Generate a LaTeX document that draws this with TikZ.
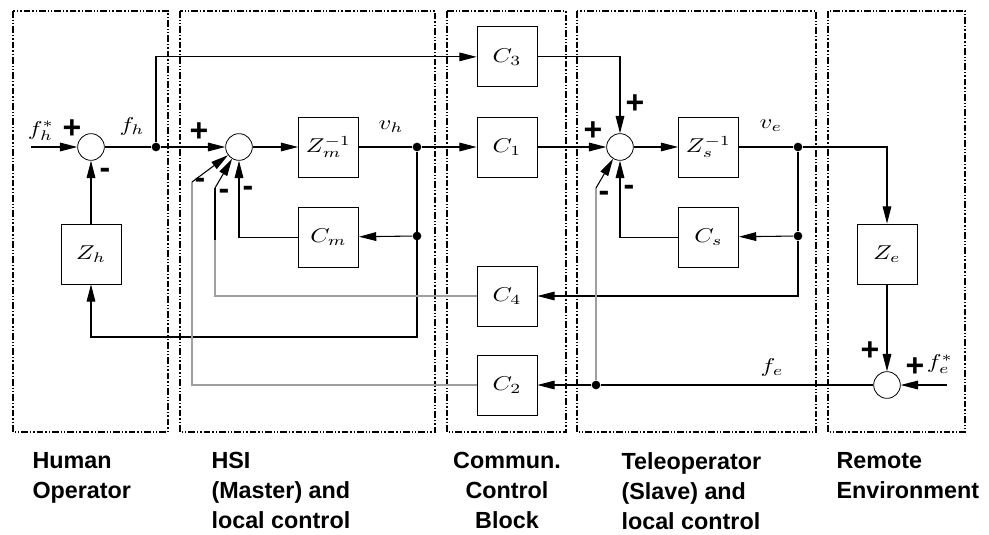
\documentclass[tikz,border=0pt]{standalone}
\usepackage{fontspec}
\setsansfont{Liberation Sans}
\usepackage{graphicx}
\usepackage{tikz}
\usetikzlibrary{positioning}
\usetikzlibrary{arrows.meta}
\newcommand{\lbl}[1]{\scalebox{1.85}[1.5]{$#1$}}

\begin{document}
\begin{tikzpicture}[
            x = 0.75pt, y = -0.75pt, % pixel grid, y downwards
            > = {Triangle[length=13pt, width=6.5pt]}, % arrow head style
            node distance = 22pt, % distance between stacked blocks
            line width = 0.8pt % line style
        ]

        \tikzstyle{block}=[draw, semithick, minimum width=45pt, minimum height=45pt, inner sep=0pt]
        \tikzstyle{sumnode}=[draw, semithick, circle, minimum size=20pt, inner sep=0pt]
        \tikzstyle{dot}=[circle, fill, minimum size=6.5pt, inner sep=0pt]
        \tikzstyle{sign}=[font=\sffamily\bfseries\fontsize{24}{24}\selectfont, inner sep=0pt]
        \tikzstyle{region}=[draw, line width=1.4pt, dash pattern=on 5pt off 1.5pt on 1pt off 1.5pt on 1pt off 1.5pt]
        \tikzstyle{fb}=[gray!75, line width=1pt]
        \tikzstyle{caption}=[anchor=north west, align=left, inner sep=0pt, font=\sffamily\bfseries\fontsize{17.5}{22.5}\selectfont]

        \useasboundingbox (0,0) rectangle (989,535);

	% subsystem frames
        \draw[region] (13,11) rectangle (168,432);
        \draw[region] (180,11) rectangle (435,432);
        \draw[region] (447,11) rectangle (566,432);
        \draw[region] (577,11) rectangle (816,432);
        \draw[region] (828,11) rectangle (965,432);

	% human operator and master
        \node[sumnode] (S1) at (91,147) {};
        \node[block] (Zh) at (91,254) {\lbl{Z_h}};
        \node[sumnode] (S2) at (239,147) {};
        \node[block] (Zm) at (328.5,147) {\lbl{Z_m^{-1}}};
        \node[block] (Cm) [below=of Zm] {\lbl{C_m}};

	% communication channel
        \node[block] (C1) at (507,147) {\lbl{C_1}};
        \node[block] (C3) [above=of C1] {\lbl{C_3}};
        \node[block] (C4) at (507,296) {\lbl{C_4}};
        \node[block] (C2) at (507,385) {\lbl{C_2}};

	% slave and environment
        \node[sumnode] (S3) at (620,147) {};
        \node[block] (Zs) at (708.5,147) {\lbl{Z_s^{-1}}};
        \node[block] (Cs) [below=of Zs] {\lbl{C_s}};
        \node[block] (Ze) at (887,254) {\lbl{Z_e}};
        \node[sumnode] (S4) at (887,385) {};

	% branch points
        \node[dot] (fh) at (156,147) {};
        \node[dot] (vh) at (417,147) {};
        \node[dot] (vh2) at (417,236) {};
        \node[dot] (ve) at (798,147) {};
        \node[dot] (ve2) at (798,236) {};
        \node[dot] (fe) at (596,385) {};
        \coordinate (fhin) at (31,147);
        \coordinate (fein) at (947,385);
        \coordinate (vhlow) at (417,337);
        \coordinate (c4bend) at (215,188);
        \coordinate (c2bend) at (192,182);
        \coordinate (febend) at (596,188);

	% forward path
        \draw[->] (fhin) -- (S1);
        \draw (S1) -- (fh);
        \draw[->] (fh) -- (S2);
        \draw[->] (fh) |- (C3);
        \draw[->] (S2) -- (Zm);
        \draw (Zm) -- (vh);
        \draw[->] (vh) -- (C1);
        \draw[->] (C1) -- (S3);
        \draw[->] (C3) -| (S3);
        \draw[->] (S3) -- (Zs);
        \draw (Zs) -- (ve);
        \draw[->] (ve) -| (Ze);
        \draw[->] (Ze) -- (S4);
        \draw[->] (fein) -- (S4);
        \draw (S4) -- (fe);
        \draw[->] (fe) -- (C2);

	% local loops
        \draw[->] (vh2) -- (Cm);
        \draw[->] (Cm) -| (S2);
        \draw[->] (vh) -- (vhlow) -| (Zh);
        \draw[->] (Zh) -- (S1);
        \draw (ve) -- (ve2);
        \draw[->] (ve2) -- (Cs);
        \draw[->] (Cs) -| (S3);
        \draw[->] (ve2) |- (C4);

	% force feedback paths
        \draw[fb] (C4) -| (215,240);
        \draw (215,240) -- (c4bend);
        \draw[->] (c4bend) -- (S2);
        \draw[fb] (C2) -| (c2bend);
        \draw[->] (c2bend) -- (S2);
        \draw[fb] (fe) -- (febend);
        \draw[->] (febend) -- (S3);

	% signals
        \node at (41,131) {\lbl{f_h^*}};
        \node at (132,127) {\lbl{f_h}};
        \node at (391,127) {\lbl{v_h}};
        \node at (771,126) {\lbl{v_e}};
        \node at (772,367) {\lbl{f_e}};
        \node at (940,364) {\lbl{f_e^*}};

	% signs
        \node[sign] at (72,129) {+};
        \node[sign] at (105,173) {-};
        \node[sign] at (199,132) {+};
        \node[sign] at (200,183) {-};
        \node[sign] at (224,194) {-};
        \node[sign] at (248,191) {-};
        \node[sign] at (593,131) {+};
        \node[sign] at (635,104) {+};
        \node[sign] at (604,196) {-};
        \node[sign] at (629,190) {-};
        \node[sign] at (870,351) {+};
        \node[sign] at (915,367) {+};

	% captions
        \node[caption] (humcap) at (32,452) {Human\\Operator};
        \node[caption] (hsicap) at (211,452) {HSI\\(Master) and\\local control};
        \node[caption, anchor=north, align=center] (comcap) at (507,452) {Commun.\\Control\\Block};
        \node[caption] (telcap) at (621,452) {Teleoperator\\(Slave) and\\local control};
        \node[caption] (remcap) at (836,452) {Remote\\Environment};

\end{tikzpicture}
\end{document}
